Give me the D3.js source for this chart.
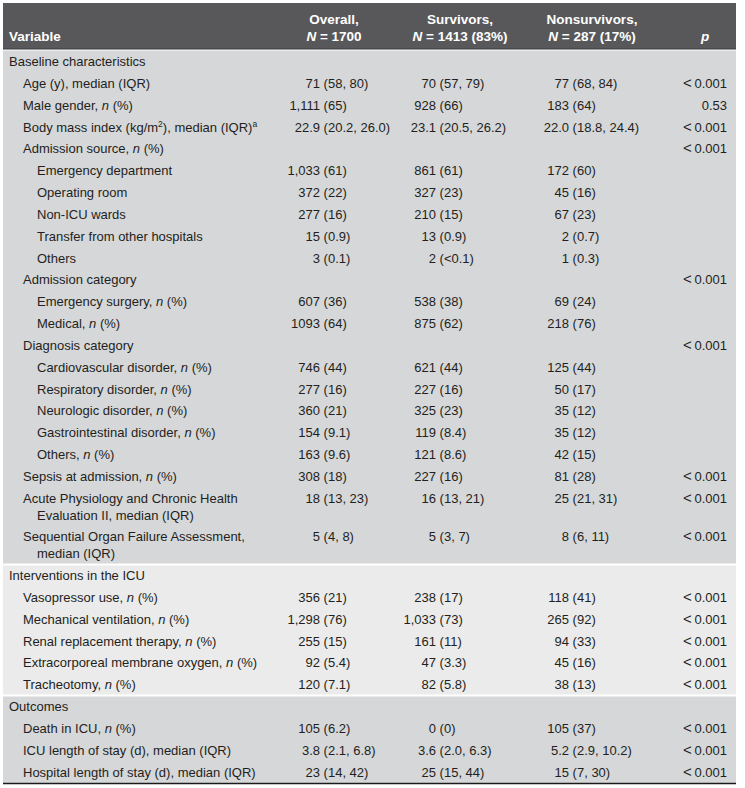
<!DOCTYPE html>
<html>
<head>
<meta charset="utf-8">
<script src="https://cdn.jsdelivr.net/npm/d3@7"></script>
<style>
  html, body { margin: 0; padding: 0; background: #ffffff; }
  svg { display: block; }
</style>
</head>
<body>
<svg id="chart" width="745" height="788"></svg>
<script>
// ---------------- DATA ----------------
const headerTop = ["", "Overall,", "Survivors,", "Nonsurvivors,", ""];
const headerBottom = ["Variable", "_N_ = 1700", "_N_ = 1413 (83%)", "_N_ = 287 (17%)", "_p_"];

const sectionNames = ["Baseline characteristics", "Interventions in the ICU", "Outcomes"];

const labels = [
  "Baseline characteristics",
  "Age (y), median (IQR)",
  "Male gender, _n_ (%)",
  "Body mass index (kg/m^2), median (IQR)^a",
  "Admission source, _n_ (%)",
  "Emergency department",
  "Operating room",
  "Non-ICU wards",
  "Transfer from other hospitals",
  "Others",
  "Admission category",
  "Emergency surgery, _n_ (%)",
  "Medical, _n_ (%)",
  "Diagnosis category",
  "Cardiovascular disorder, _n_ (%)",
  "Respiratory disorder, _n_ (%)",
  "Neurologic disorder, _n_ (%)",
  "Gastrointestinal disorder, _n_ (%)",
  "Others, _n_ (%)",
  "Sepsis at admission, _n_ (%)",
  "Acute Physiology and Chronic Health|Evaluation II, median (IQR)",
  "Sequential Organ Failure Assessment,|median (IQR)",
  "Interventions in the ICU",
  "Vasopressor use, _n_ (%)",
  "Mechanical ventilation, _n_ (%)",
  "Renal replacement therapy, _n_ (%)",
  "Extracorporeal membrane oxygen, _n_ (%)",
  "Tracheotomy, _n_ (%)",
  "Outcomes",
  "Death in ICU, _n_ (%)",
  "ICU length of stay (d), median (IQR)",
  "Hospital length of stay (d), median (IQR)"
];

const levels = [0,1,1,1,1,2,2,2,2,2,1,2,2,1,2,2,2,2,2,1,1,1, 0,1,1,1,1,1, 0,1,1,1];
const sectionOf = [0,0,0,0,0,0,0,0,0,0,0,0,0,0,0,0,0,0,0,0,0,0, 1,1,1,1,1,1, 2,2,2,2];

const overall = [
  "", "71 (58, 80)", "1,111 (65)", "22.9 (20.2, 26.0)", "",
  "1,033 (61)", "372 (22)", "277 (16)", "15 (0.9)", "3 (0.1)",
  "", "607 (36)", "1093 (64)",
  "", "746 (44)", "277 (16)", "360 (21)", "154 (9.1)", "163 (9.6)",
  "308 (18)", "18 (13, 23)", "5 (4, 8)",
  "", "356 (21)", "1,298 (76)", "255 (15)", "92 (5.4)", "120 (7.1)",
  "", "105 (6.2)", "3.8 (2.1, 6.8)", "23 (14, 42)"
];
const survivors = [
  "", "70 (57, 79)", "928 (66)", "23.1 (20.5, 26.2)", "",
  "861 (61)", "327 (23)", "210 (15)", "13 (0.9)", "2 (<0.1)",
  "", "538 (38)", "875 (62)",
  "", "621 (44)", "227 (16)", "325 (23)", "119 (8.4)", "121 (8.6)",
  "227 (16)", "16 (13, 21)", "5 (3, 7)",
  "", "238 (17)", "1,033 (73)", "161 (11)", "47 (3.3)", "82 (5.8)",
  "", "0 (0)", "3.6 (2.0, 6.3)", "25 (15, 44)"
];
const nonsurvivors = [
  "", "77 (68, 84)", "183 (64)", "22.0 (18.8, 24.4)", "",
  "172 (60)", "45 (16)", "67 (23)", "2 (0.7)", "1 (0.3)",
  "", "69 (24)", "218 (76)",
  "", "125 (44)", "50 (17)", "35 (12)", "35 (12)", "42 (15)",
  "81 (28)", "25 (21, 31)", "8 (6, 11)",
  "", "118 (41)", "265 (92)", "94 (33)", "45 (16)", "38 (13)",
  "", "105 (37)", "5.2 (2.9, 10.2)", "15 (7, 30)"
];

const pValues = [
  "", "< 0.001", "0.53", "< 0.001", "< 0.001",
  "", "", "", "", "",
  "< 0.001", "", "",
  "< 0.001", "", "", "", "", "",
  "< 0.001", "< 0.001", "< 0.001",
  "", "< 0.001", "< 0.001", "< 0.001", "< 0.001", "< 0.001",
  "", "< 0.001", "< 0.001", "< 0.001"
];

// ---------------- LAYOUT ----------------
const W = 745, H = 788;
const left = 3, right = 736;
const headerY0 = 3, headerY1 = 49;
const bodyTop = 50.5;
const pitch = 21.84;
const extraLine = 16.75;

const svg = d3.select("#chart");
const font = "'Liberation Sans', Arial, Helvetica, sans-serif";
const textColor = "#231f20";

// row units: each row 1 unit plus extra lines
const lineCounts = labels.map(l => l.split("|").length);
const rowStarts = [];
let acc = 0;
lineCounts.forEach(n => { rowStarts.push(acc); acc += 1 + (n - 1) * extraLine / pitch; });
const totalUnits = acc;
const y = d3.scaleLinear().domain([0, totalUnits]).range([bodyTop, bodyTop + totalUnits * pitch]);

const cols = ["Variable", "Overall", "Survivors", "Nonsurvivors", "p"];
const colX = d3.scaleOrdinal().domain(cols).range([9, 320, 436, 569, 727]);
const headerCenter = d3.scaleOrdinal().domain(cols).range([9, 334, 460, 592, 705]);
const indent = d3.scaleOrdinal().domain([0, 1, 2]).range([9, 23, 37]);

// Section backgrounds
const sectionFill = ["#d6d7d9", "#ebebeb", "#d6d7d9"];
const sectionBounds = sectionNames.map((s, i) => {
  const idx = sectionOf.map((v, k) => v === i ? k : -1).filter(k => k >= 0);
  const first = idx[0], last = idx[idx.length - 1];
  return { i, y0: y(rowStarts[first]), y1: y(rowStarts[last]) + (1 + (lineCounts[last] - 1) * extraLine / pitch) * pitch };
});

svg.selectAll("rect.section").data(sectionBounds).join("rect")
  .attr("class", "section")
  .attr("x", left).attr("width", right - left)
  .attr("y", d => d.y0).attr("height", d => d.y1 - d.y0)
  .attr("fill", d => sectionFill[d.i]);

// white separators between sections
svg.selectAll("line.sep").data(sectionBounds.slice(0, -1)).join("line")
  .attr("class", "sep")
  .attr("x1", left).attr("x2", right)
  .attr("y1", d => d.y1).attr("y2", d => d.y1)
  .attr("stroke", "#ffffff").attr("stroke-width", 2);

// bottom rule
const lastB = sectionBounds[sectionBounds.length - 1];
svg.append("line")
  .attr("x1", left).attr("x2", right)
  .attr("y1", lastB.y1 + 0.5).attr("y2", lastB.y1 + 0.5)
  .attr("stroke", "#1a1a1a").attr("stroke-width", 1.5);

// Header
svg.append("rect")
  .attr("x", left).attr("y", headerY0)
  .attr("width", right - left).attr("height", headerY1 - headerY0)
  .attr("fill", "#58585a");
svg.append("line")
  .attr("x1", left).attr("x2", right).attr("y1", headerY1).attr("y2", headerY1)
  .attr("stroke", "#3a3a3a").attr("stroke-width", 1);

// rich text helper: _x_ italic, ^x superscript
function rich(sel, str) {
  const parts = str.split(/(_[^_]+_|\^[A-Za-z0-9]+)/).filter(p => p.length);
  let shifted = false;
  parts.forEach(p => {
    const t = sel.append("tspan");
    if (p.startsWith("_") && p.endsWith("_")) {
      t.text(p.slice(1, -1)).attr("font-style", "italic");
      if (shifted) { t.attr("dy", 4.5); shifted = false; }
    } else if (p.startsWith("^")) {
      t.text(p.slice(1)).attr("font-size", "8.5px").attr("dy", -4.5);
      shifted = true;
    } else {
      t.text(p);
      if (shifted) { t.attr("dy", 4.5); shifted = false; }
    }
  });
}

const hdr = svg.append("g").attr("font-family", font).attr("font-weight", "bold")
  .attr("font-size", "13.5px").attr("fill", "#ffffff");
cols.forEach((c, i) => {
  const anchor = i === 0 ? "start" : "middle";
  if (headerTop[i]) {
    hdr.append("text").attr("x", headerCenter(c)).attr("y", 24)
      .attr("text-anchor", anchor).text(headerTop[i]);
  }
  const t = hdr.append("text").attr("x", headerCenter(c)).attr("y", 41)
    .attr("text-anchor", anchor);
  rich(t, headerBottom[i]);
});

// Body text
const body = svg.append("g").attr("font-family", font).attr("font-size", "13px").attr("fill", textColor);

const rowsG = body.selectAll("g.row").data(labels.map((l, i) => i)).join("g")
  .attr("class", "row")
  .attr("transform", i => `translate(0,${y(rowStarts[i] + 0.5) + 4.6})`);

rowsG.each(function(i) {
  const g = d3.select(this);
  const lines = labels[i].split("|");
  lines.forEach((ln, k) => {
    const t = g.append("text")
      .attr("x", indent(levels[i]) + (k > 0 ? 14 : 0))
      .attr("y", k * extraLine);
    rich(t, ln);
  });
  [["Overall", overall], ["Survivors", survivors], ["Nonsurvivors", nonsurvivors]].forEach(([c, arr]) => {
    const v = arr[i];
    if (!v) return;
    const cut = v.indexOf(" (");
    const a = cut >= 0 ? v.slice(0, cut) : v;
    const b = cut >= 0 ? v.slice(cut + 1) : "";
    g.append("text").attr("x", colX(c)).attr("text-anchor", "end").text(a);
    if (b) g.append("text").attr("x", colX(c) + 3.6).attr("text-anchor", "start").text(b);
  });
  const pv = pValues[i];
  if (pv) {
    const t = g.append("text").attr("x", colX("p")).attr("text-anchor", "end");
    if (pv.startsWith("<")) {
      t.append("tspan").attr("font-size", "15px").text("<");
      t.append("tspan").text("\u2009" + pv.slice(1).trim());
    } else {
      t.text(pv);
    }
  }
});
</script>
</body>
</html>
